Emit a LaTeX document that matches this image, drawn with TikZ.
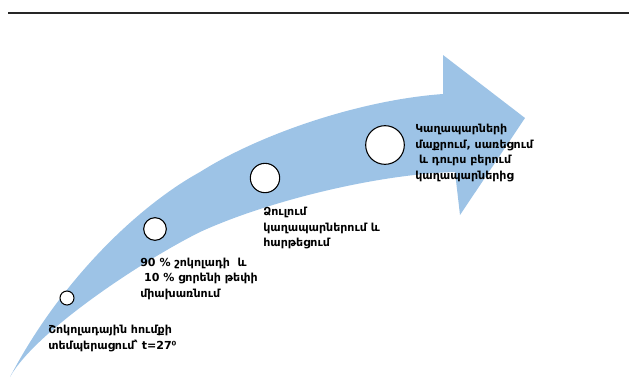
\documentclass[tikz,border=0pt]{standalone}
\usepackage{fontspec}
\setmainfont{DejaVu Sans}
\definecolor{arrowblue}{RGB}{157,195,230}
\tikzset{
  stage/.style={circle, draw=black, line width=0.8pt, fill=white, inner sep=0pt},
  steptext/.style={anchor=north west, align=left, inner sep=0pt,
    font=\bfseries\fontsize{8.3}{11.6}\selectfont},
}
\begin{document}
\begin{tikzpicture}[x=0.75pt, y=-0.75pt]
			\useasboundingbox (0,0) rectangle (629,383);
			% rule
			\coordinate (r0) at (8, 13);
			\coordinate (r1) at (629, 13);
			\draw[line width=1.3pt, black!85] (r0)--(r1);
			
			% arrow outline
			\coordinate (a0) at (10, 377);   % tail
			\coordinate (a1) at (200, 172);
			\coordinate (a2) at (443, 94);   % upper notch
			\coordinate (a3) at (443, 55);   % upper barb
			\coordinate (a4) at (525, 118);  % tip
			\coordinate (a5) at (460, 215);  % lower barb
			\coordinate (a6) at (455, 172);  % lower notch
			\coordinate (a7) at (200, 232);
			
			% DRAW ARROW
			\fill[arrowblue] (a0) .. controls (62,278) and (140,205) .. (a1)
				.. controls (260,134) and (360,100) .. (a2)
				-- (a3) -- (a4) -- (a5) -- (a6)
				.. controls (380,174) and (270,200) .. (a7)
				.. controls (140,262) and (35,332) .. (a0) -- cycle;
			
			% DRAW NODES
			\node[stage, minimum size=10.5pt] (c0) at (67, 298) {};
			\node[stage, minimum size=17pt] (c1) at (155, 229) {};
			\node[stage, minimum size=22pt] (c2) at (265, 178) {};
			\node[stage, minimum size=29pt] (c3) at (385, 145) {};
			
			% DRAW TEXT
			\node[steptext] (t0) at (48, 325) {Շոկոլադային հումքի\\տեմպերացում՝ t=27⁰};
			\node[steptext] (t1) at (140, 257.5) {90 \% շոկոլադի\ \ և\\\ 10 \% ցորենի թեփի\\միախառնում};
			\node[steptext] (t2) at (263, 207) {Ձուլում\\կաղապարներում և\\հարթեցում};
			\node[steptext] (t3) at (415, 124) {Կաղապարների\\մաքրում, սառեցում\\\ և դուրս բերում\\կաղապարներից};
		\end{tikzpicture}
\end{document}
